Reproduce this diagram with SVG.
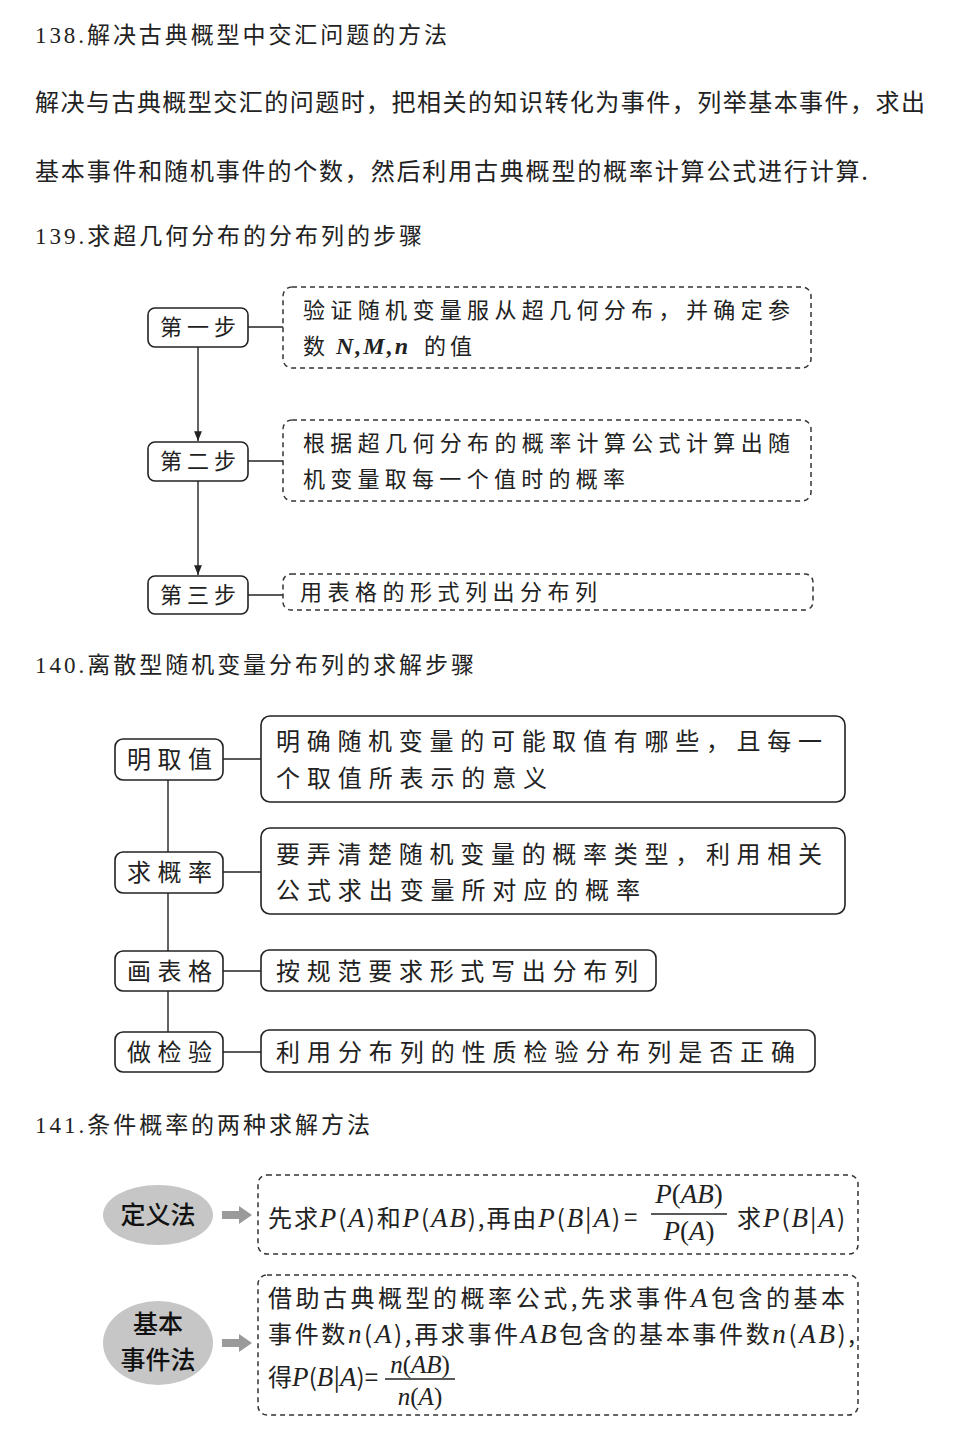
<svg xmlns="http://www.w3.org/2000/svg" width="954" height="1455" viewBox="0 0 954 1455">
<defs>
<style>
.t{font-family:"Liberation Serif","Noto Sans CJK SC",serif;font-size:23px;fill:#222}
.p{font-family:"Noto Sans CJK SC",sans-serif;font-size:24px;fill:#222}
.b{font-family:"Noto Sans CJK SC",sans-serif;font-size:22px;fill:#222}
.m{font-family:"Liberation Serif",serif;font-style:italic;fill:#222}
.mb{font-family:"Liberation Serif",serif;font-style:italic;font-weight:bold;fill:#222}
.e{font-family:"Noto Sans CJK SC",sans-serif;font-size:25px;font-weight:500;fill:#111}
.sb{fill:#fff;stroke:#222;stroke-width:1.6}
.db{fill:none;stroke:#333;stroke-width:1.5;stroke-dasharray:5 4}
.ln{stroke:#222;stroke-width:1.4;fill:none}
.ga{fill:#9a9a9a}
.ell{fill:#c6c6c6}
</style>
<marker id="ar" viewBox="0 0 10 10" refX="10" refY="5" markerWidth="7" markerHeight="7" orient="auto">
<path d="M0,1 L10,5 L0,9 Z" fill="#222"/>
</marker>
</defs>
<rect width="954" height="1455" fill="#fff"/>

<g id="sec138">
<text class="t" x="35" y="43" textLength="412" lengthAdjust="spacing">138.解决古典概型中交汇问题的方法</text>
<text class="p" x="35" y="111" textLength="890" lengthAdjust="spacing">解决与古典概型交汇的问题时，把相关的知识转化为事件，列举基本事件，求出</text>
<text class="p" x="35" y="180" textLength="833" lengthAdjust="spacing">基本事件和随机事件的个数，然后利用古典概型的概率计算公式进行计算.</text>
</g>

<g id="sec139-title"><text class="t" x="35" y="244" textLength="387" lengthAdjust="spacing">139.求超几何分布的分布列的步骤</text></g>

<g id="connectors139">
<line class="ln" x1="198" y1="347" x2="198" y2="441" marker-end="url(#ar)"/>
<line class="ln" x1="198" y1="481" x2="198" y2="575" marker-end="url(#ar)"/>
<line class="ln" x1="248" y1="327" x2="283" y2="327"/>
<line class="ln" x1="248" y1="461" x2="283" y2="461"/>
<line class="ln" x1="248" y1="595" x2="283" y2="595"/>
</g>
<g id="step1"><rect class="sb" x="148" y="308" width="100" height="39" rx="7"/><text class="b" x="160" y="335" textLength="76" lengthAdjust="spacing">第一步</text></g>
<g id="step2"><rect class="sb" x="148" y="442" width="100" height="39" rx="7"/><text class="b" x="160" y="469" textLength="76" lengthAdjust="spacing">第二步</text></g>
<g id="step3"><rect class="sb" x="148" y="576" width="100" height="38" rx="7"/><text class="b" x="160" y="603" textLength="76" lengthAdjust="spacing">第三步</text></g>
<g id="desc1"><rect class="db" x="283" y="287" width="528" height="81" rx="9"/>
<text class="b" x="303" y="318" textLength="487" lengthAdjust="spacing">验证随机变量服从超几何分布，并确定参</text>
<text class="b" x="303" y="354">数</text><text class="mb" x="336" y="354" font-size="24" textLength="72" lengthAdjust="spacing">N,M,n</text><text class="b" x="424" y="354" textLength="48" lengthAdjust="spacing">的值</text></g>
<g id="desc2"><rect class="db" x="283" y="420" width="528" height="81" rx="9"/>
<text class="b" x="303" y="451" textLength="487" lengthAdjust="spacing">根据超几何分布的概率计算公式计算出随</text>
<text class="b" x="303" y="487" textLength="322" lengthAdjust="spacing">机变量取每一个值时的概率</text></g>
<g id="desc3"><rect class="db" x="283" y="574" width="530" height="36" rx="8"/>
<text class="b" x="300" y="600" textLength="297" lengthAdjust="spacing">用表格的形式列出分布列</text></g>

<g id="sec140-title"><text class="t" x="35" y="673" textLength="439" lengthAdjust="spacing">140.离散型随机变量分布列的求解步骤</text></g>

<g id="connectors140">
<line class="ln" x1="168" y1="780" x2="168" y2="1032"/>
<line class="ln" x1="223" y1="759" x2="261" y2="759"/>
<line class="ln" x1="223" y1="872" x2="261" y2="872"/>
<line class="ln" x1="223" y1="971" x2="261" y2="971"/>
<line class="ln" x1="223" y1="1052" x2="261" y2="1052"/>
</g>
<g id="n-mingquzhi"><rect class="sb" x="115" y="739" width="108" height="41" rx="8"/><text class="p" x="127" y="768" textLength="85" lengthAdjust="spacing">明取值</text></g>
<g id="n-qiugailv"><rect class="sb" x="115" y="852" width="108" height="41" rx="8"/><text class="p" x="127" y="881" textLength="85" lengthAdjust="spacing">求概率</text></g>
<g id="n-huabiaoge"><rect class="sb" x="115" y="951" width="108" height="40" rx="8"/><text class="p" x="127" y="980" textLength="85" lengthAdjust="spacing">画表格</text></g>
<g id="n-zuojianyan"><rect class="sb" x="115" y="1032" width="108" height="40" rx="8"/><text class="p" x="127" y="1061" textLength="85" lengthAdjust="spacing">做检验</text></g>
<g id="d-1"><rect class="sb" x="261" y="716" width="584" height="86" rx="9"/>
<text class="p" x="276" y="750" textLength="546" lengthAdjust="spacing">明确随机变量的可能取值有哪些，且每一</text>
<text class="p" x="276" y="787" textLength="271" lengthAdjust="spacing">个取值所表示的意义</text></g>
<g id="d-2"><rect class="sb" x="261" y="828" width="584" height="86" rx="9"/>
<text class="p" x="276" y="863" textLength="546" lengthAdjust="spacing">要弄清楚随机变量的概率类型，利用相关</text>
<text class="p" x="276" y="899" textLength="364" lengthAdjust="spacing">公式求出变量所对应的概率</text></g>
<g id="d-3"><rect class="sb" x="261" y="950" width="395" height="41" rx="8"/>
<text class="p" x="276" y="980" textLength="362" lengthAdjust="spacing">按规范要求形式写出分布列</text></g>
<g id="d-4"><rect class="sb" x="261" y="1030" width="554" height="42" rx="8"/>
<text class="p" x="276" y="1061" textLength="519" lengthAdjust="spacing">利用分布列的性质检验分布列是否正确</text></g>

<g id="sec141-title"><text class="t" x="35" y="1133" textLength="335" lengthAdjust="spacing">141.条件概率的两种求解方法</text></g>

<g id="arrows141">
<path class="ga" d="M222,1211 H239 V1206 L252,1215 L239,1224 V1219 H222 Z"/>
<path class="ga" d="M222,1339 H239 V1334 L252,1343 L239,1352 V1347 H222 Z"/>
</g>
<g id="e-dingyi"><ellipse class="ell" cx="158" cy="1215" rx="55" ry="30"/><text class="e" x="158" y="1224" text-anchor="middle">定义法</text></g>
<g id="e-jiben"><ellipse class="ell" cx="158" cy="1343" rx="55" ry="42"/><text class="e" x="158" y="1333" text-anchor="middle">基本</text><text class="e" x="158" y="1369" text-anchor="middle">事件法</text></g>
<g id="f-dingyi"><rect class="db" x="258" y="1175" width="600" height="79" rx="9"/>
<text class="p" x="268" y="1227" textLength="352" lengthAdjust="spacing">先求<tspan class="m" font-size="27">P</tspan>(<tspan class="m" font-size="27">A</tspan>)和<tspan class="m" font-size="27">P</tspan>(<tspan class="m" font-size="27">AB</tspan>),再由<tspan class="m" font-size="27">P</tspan>(<tspan class="m" font-size="27">B</tspan>|<tspan class="m" font-size="27">A</tspan>)</text>
<text class="p" x="624" y="1226">=</text>
<text class="m" x="689" y="1203" font-size="27" text-anchor="middle"><tspan>P</tspan><tspan font-style="normal">(</tspan>AB<tspan font-style="normal">)</tspan></text>
<line class="ln" x1="651" y1="1214" x2="727" y2="1214"/>
<text class="m" x="689" y="1240" font-size="27" text-anchor="middle">P<tspan font-style="normal">(</tspan>A<tspan font-style="normal">)</tspan></text>
<text class="p" x="737" y="1227" textLength="108" lengthAdjust="spacing">求<tspan class="m" font-size="27">P</tspan>(<tspan class="m" font-size="27">B</tspan>|<tspan class="m" font-size="27">A</tspan>)</text>
</g>
<g id="f-jiben"><rect class="db" x="258" y="1275" width="600" height="140" rx="9"/>
<text class="p" x="268" y="1307" textLength="577" lengthAdjust="spacing">借助古典概型的概率公式,先求事件<tspan class="m" font-size="27">A</tspan>包含的基本</text>
<text class="p" x="268" y="1343" textLength="587" lengthAdjust="spacing">事件数<tspan class="m" font-size="27">n</tspan>(<tspan class="m" font-size="27">A</tspan>),再求事件<tspan class="m" font-size="27">AB</tspan>包含的基本事件数<tspan class="m" font-size="27">n</tspan>(<tspan class="m" font-size="27">AB</tspan>),</text>
<text class="p" x="268" y="1386" textLength="110" lengthAdjust="spacing">得<tspan class="m" font-size="27">P</tspan>(<tspan class="m" font-size="27">B</tspan>|<tspan class="m" font-size="27">A</tspan>)=</text>
<text class="m" x="420" y="1373" font-size="25" text-anchor="middle">n<tspan font-style="normal">(</tspan>AB<tspan font-style="normal">)</tspan></text>
<line class="ln" x1="385" y1="1379" x2="455" y2="1379"/>
<text class="m" x="420" y="1405" font-size="25" text-anchor="middle">n<tspan font-style="normal">(</tspan>A<tspan font-style="normal">)</tspan></text>
</g>
</svg>
